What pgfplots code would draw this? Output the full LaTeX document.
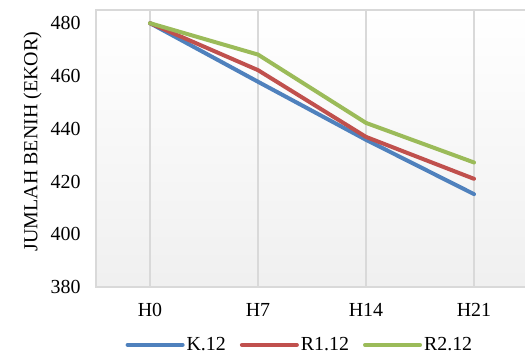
\documentclass[border=0pt]{standalone}
\usepackage{fontspec}
\setmainfont{Liberation Serif}
\usepackage{pgfplots}
\pgfplotsset{compat=1.18}
\definecolor{cK}{HTML}{4F81BD}
\definecolor{cR}{HTML}{C0504D}
\definecolor{cG}{HTML}{9BBB59}
\definecolor{gridc}{HTML}{D9D9D9}
\begin{document}
\begin{tikzpicture}
\useasboundingbox (0,0) rectangle (525bp,356bp);
\begin{axis}[
  at={(96bp,69bp)}, anchor=south west,
  scale only axis, width=432bp, height=277bp,
  xmin=-0.5, xmax=3.5, ymin=380, ymax=485,
  xtick={0,1,2,3}, xticklabels={H0,H7,H14,H21},
  ytick={380,400,...,480},
  major tick length=0pt,
  xmajorgrids, major grid style={gridc, line width=1.3bp},
  axis line style={gridc, line width=1.3bp},
  axis background/.style={top color=white, bottom color=black!6},
  /pgf/number format/assume math mode=true,
  tick label style={font=\fontsize{20}{24}\selectfont},
  yticklabel style={anchor=east, xshift=-12bp},
  xticklabel style={anchor=north, yshift=-13bp},
  ylabel={JUMLAH BENIH (EKOR)},
  every axis y label/.style={at={(axis description cs:-0.147,0.525)}, rotate=90, anchor=center, font=\fontsize{20}{24}\selectfont},
  legend columns=-1,
  legend style={at={(axis description cs:0.472,-0.209)}, anchor=center, draw=none, fill=none,
    font=\fontsize{20}{24}\selectfont,
    /tikz/every even column/.append style={column sep=12bp}},
  legend image code/.code={\draw[#1, line cap=round] (0bp,0bp) -- (55bp,0bp);},
  every axis plot/.append style={line width=4bp, line join=round, line cap=round, mark=none},
]
\addplot[cK] coordinates {(0,480) (1,457.8) (2,435.8) (3,415.2)};
\addlegendentry{K.12}
\addplot[cR] coordinates {(0,480) (1,462.2) (2,436.9) (3,421.0)};
\addlegendentry{R1.12}
\addplot[cG] coordinates {(0,480) (1,468.1) (2,442.2) (3,427.2)};
\addlegendentry{R2.12}
\end{axis}
\end{tikzpicture}
\end{document}
